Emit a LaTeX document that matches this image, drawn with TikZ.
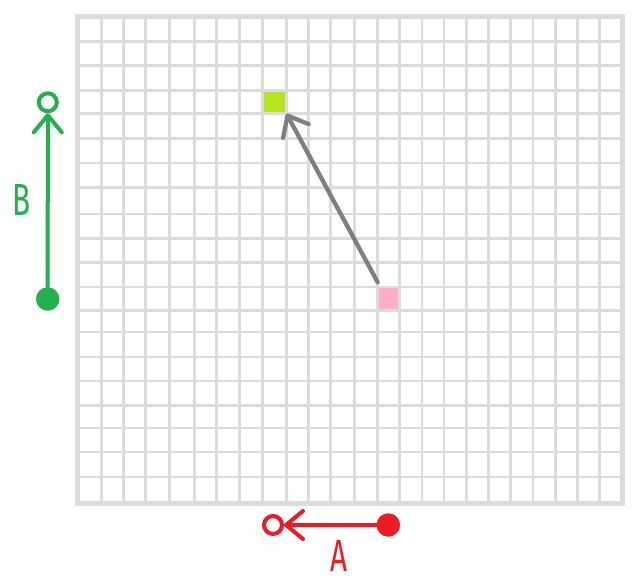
\documentclass[tikz,border=0pt]{standalone}
\usepackage{fontspec}
\newfontfamily\lblfont[FakeStretch=0.66]{Fira Sans}
\usetikzlibrary{arrows.meta}
\definecolor{gridgray}{HTML}{DCDCDC}
\definecolor{lgreen}{HTML}{22B14C}
\definecolor{lred}{HTML}{ED1C24}
\definecolor{lime}{HTML}{B5E61D}
\definecolor{lpink}{HTML}{FFAEC9}
\definecolor{lgray}{HTML}{7F7F7F}
\begin{document}
\begin{tikzpicture}[x=1pt,y=-1pt,
  gridline/.style={draw=gridgray, line width=2.7pt},
  gridborder/.style={draw=gridgray, line width=5pt},
  cellbox/.style={rectangle, inner sep=0pt, draw=none},
  barb/.style={-{Straight Barb[length=17pt,width=28pt,round]}, line width=4pt, line cap=round},
  dotstart/.style={circle, inner sep=0pt, minimum size=23.5pt},
  dotend/.style={circle, inner sep=0pt, minimum size=18pt, line width=4pt, fill=white},
  lbl/.style={font=\lblfont\fontsize{45}{45}\selectfont, inner sep=0pt}]
\useasboundingbox (0,0) rectangle (639,586);
\fill[white] (0,0) rectangle (639,586);
% coloured cells
\node[cellbox, fill=lime, minimum width=24pt, minimum height=23pt] (target) at (274.3,102) {};
\node[cellbox, fill=lpink, minimum width=22.4pt, minimum height=23.5pt] (source) at (388.5,298.75) {};
% grid
\foreach \x in {101.3,123.7,145.3,169.7,194.7,216.3,239.7,262.3,286.3,308.7,330.7,354.7,377.3,399.7,422,444,466.3,488.7,510.7,533,555.3,577.3,599.7}
  \draw[gridline] (\x,16.5) -- (\x,503.5);
\foreach \y in {41.3,65.3,90.5,113.5,138.5,163,187.3,214,238.5,262.5,287,310.5,332,357,381,405.5,428,452,477}
  \draw[gridline] (77.5,\y) -- (622.5,\y);
\draw[gridborder] (77.5,16.5) rectangle (622.5,503.5);
% gray move arrow
\coordinate (tail) at (377.7,282.3);
\draw[barb, draw=lgray, line width=4.3pt, -{Straight Barb[length=17.5pt,width=29pt,round]}] (tail) -- (target.south east);
% B axis
\node[dotstart, fill=lgreen] (bstart) at (47.7,299) {};
\node[dotend, draw=lgreen] (bend) at (47.8,102.3) {};
\draw[barb, draw=lgreen] (bstart) -- (bend);
\node[lbl, text=lgreen] (blabel) at (21.5,199.5) {B};
% A axis
\node[dotstart, fill=lred] (astart) at (388.3,525) {};
\node[dotend, draw=lred] (aend) at (273,525) {};
\draw[barb, draw=lred] (astart) -- (aend);
\node[lbl, text=lred] (alabel) at (338.7,556) {A};
\end{tikzpicture}
\end{document}
